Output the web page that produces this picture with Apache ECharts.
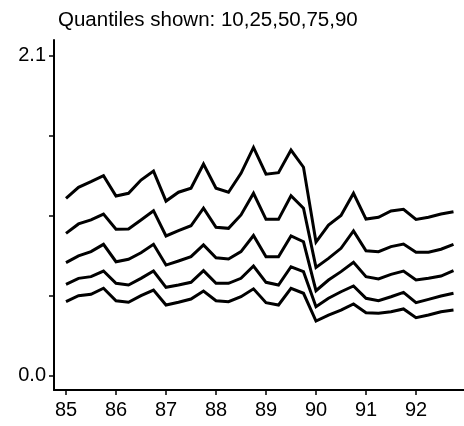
<!DOCTYPE html>
<html>
<head>
<meta charset="utf-8">
<script src="https://cdn.jsdelivr.net/npm/echarts@6/dist/echarts.min.js"></script>
<style>html,body{margin:0;padding:0;background:#fff;}#c{width:464px;height:426px;}</style>
</head>
<body>
<div id="c"></div>
<script>
// quarterly time points (year + fraction), 85.00 .. 92.75
var quarters = [];
for (var i = 0; i < 32; i++) quarters.push(85 + i * 0.25);

var xTickLabels = [85, 86, 87, 88, 89, 90, 91, 92];
var yTickValues = [0, 0.525, 1.05, 1.575, 2.1];
var yTickLabels = [0, 2.1];
var titleText = 'Quantiles shown: 10,25,50,75,90';

var q90 = [1.164,1.236,1.273,1.313,1.179,1.197,1.284,1.343,1.146,1.204,1.230,1.389,1.230,1.204,1.328,1.498,
           1.322,1.332,1.481,1.368,0.877,0.989,1.051,1.197,1.028,1.040,1.081,1.092,1.026,1.040,1.061,1.076];
var q75 = [0.934,0.996,1.022,1.061,0.961,0.963,1.022,1.083,0.917,0.952,0.984,1.099,0.974,0.967,1.055,1.197,
           1.026,1.026,1.181,1.099,0.711,0.770,0.836,0.950,0.820,0.814,0.847,0.864,0.810,0.810,0.830,0.862];
var q50 = [0.742,0.786,0.814,0.862,0.748,0.764,0.807,0.862,0.726,0.753,0.781,0.858,0.774,0.766,0.814,0.920,
           0.781,0.781,0.917,0.879,0.558,0.628,0.683,0.744,0.650,0.635,0.665,0.687,0.628,0.639,0.654,0.689];
var q25 = [0.600,0.639,0.650,0.687,0.606,0.595,0.639,0.687,0.580,0.595,0.613,0.689,0.606,0.606,0.639,0.720,
           0.613,0.595,0.715,0.683,0.453,0.508,0.551,0.589,0.508,0.492,0.518,0.547,0.479,0.501,0.523,0.541];
var q10 = [0.486,0.525,0.534,0.574,0.492,0.482,0.525,0.562,0.464,0.482,0.503,0.556,0.492,0.486,0.518,0.570,
           0.479,0.464,0.574,0.541,0.359,0.398,0.431,0.471,0.413,0.410,0.420,0.438,0.381,0.398,0.420,0.431];

function pairs(arr) { return arr.map(function (v, i) { return [quarters[i], v]; }); }
var seriesList = [q10, q25, q50, q75, q90].map(function (arr, k) {
  return {
    type: 'line', data: pairs(arr), showSymbol: false, symbol: 'none',
    lineStyle: { color: '#000', width: 3, join: 'miter' }, silent: true, animation: false
  };
});

var fontFam = 'Liberation Sans, Arial, Helvetica, sans-serif';
var chart = echarts.init(document.getElementById('c'), null, { renderer: 'canvas' });
chart.setOption({
  animation: false,
  backgroundColor: '#fff',
  title: {
    text: titleText, left: 53, top: 5,
    textStyle: { fontFamily: fontFam, fontSize: 20.5, fontWeight: 'normal', color: '#000' }
  },
  grid: { left: 54, right: 0, top: 40, bottom: 36, containLabel: false },
  xAxis: {
    type: 'value', min: 84.76, max: 92.96,
    axisLine: { show: true, onZero: false, lineStyle: { color: '#000', width: 2 } },
    axisTick: { show: true, length: 5, lineStyle: { color: '#000', width: 1.5 }, customValues: xTickLabels },
    axisLabel: { customValues: xTickLabels, color: '#000', fontSize: 20, fontFamily: fontFam, margin: 10,
                 formatter: function (v) { return String(Math.round(v)); } },
    splitLine: { show: false }
  },
  yAxis: {
    type: 'value', min: -0.0938, max: 2.203,
    axisLine: { show: true, onZero: false, lineStyle: { color: '#000', width: 2 } },
    axisTick: { show: true, length: 5, lineStyle: { color: '#000', width: 1.5 }, customValues: yTickValues },
    axisLabel: { customValues: yTickLabels, color: '#000', fontSize: 20, fontFamily: fontFam, margin: 8,
                 formatter: function (v) { return v.toFixed(1); } },
    splitLine: { show: false }
  },
  series: seriesList
});
</script>
</body>
</html>
